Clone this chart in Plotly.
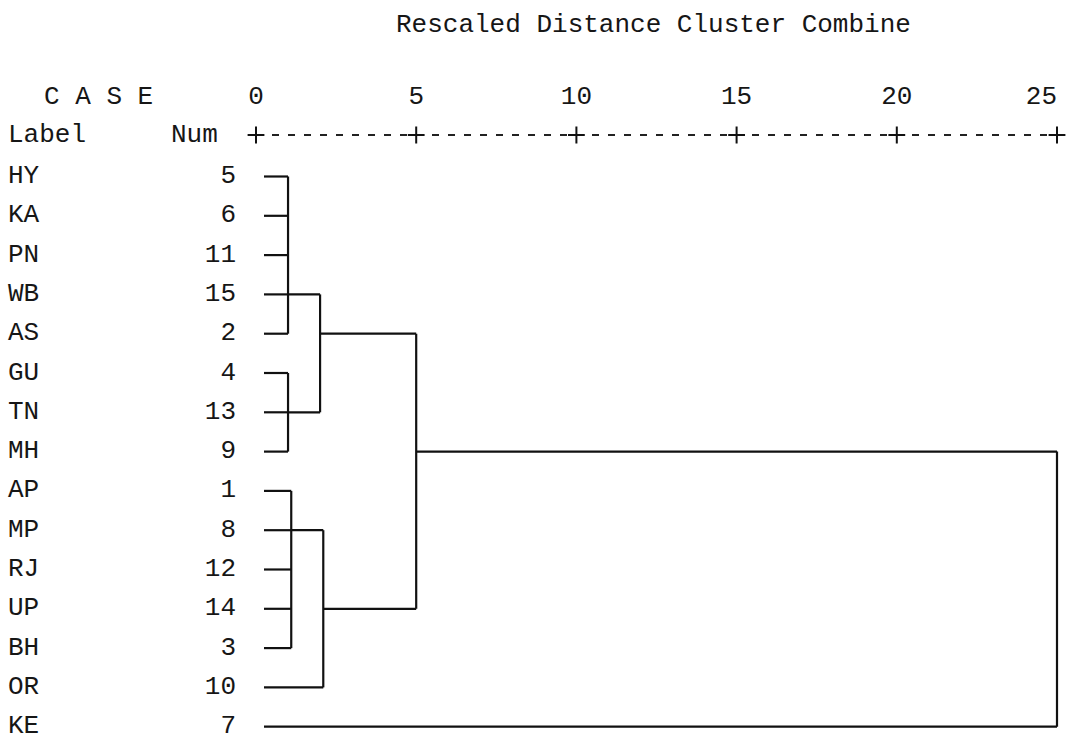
import plotly.graph_objects as go

# ---- data ----
labels = ["HY", "KA", "PN", "WB", "AS", "GU", "TN", "MH", "AP", "MP", "RJ", "UP", "BH", "OR", "KE"]
nums = [5, 6, 11, 15, 2, 4, 13, 9, 1, 8, 12, 14, 3, 10, 7]
scale_ticks = [0, 5, 10, 15, 20, 25]
# merges: ids 0..14 are leaves (row order); merge k gets id 15+k
merge_children = [[0, 1, 2, 3, 4], [5, 6, 7], [15, 16], [8, 9, 10, 11, 12], [18, 13], [17, 19], [20, 14]]
merge_height = [1.0, 1.0, 2.0, 1.1, 2.1, 5.0, 25.0]
merge_row = [3, 6, 4, 9, 11, 7, None]

title_text = "Rescaled Distance Cluster Combine"

# ---- geometry helpers (pixel -> data) ----
W, H = 1072, 746
PX0, PXU = 256.0, 32.04         # pixel of distance 0, pixels per unit
PY0, PYU = 176.5, 39.3          # pixel of row 0, pixels per row
def xd(px):
    return (px - PX0) / PXU
def yd(py):
    return (py - PY0) / PYU

LEAF_START = xd(264)
FONT = "Liberation Mono, Courier New, monospace"
TXT = "#161616"
FS = 26

node_row = {i: i for i in range(len(labels))}
node_h = {i: LEAF_START for i in range(len(labels))}

fig = go.Figure()
lx, ly = [], []
for k, (ch, h) in enumerate(zip(merge_children, merge_height)):
    rows = [node_row[c] for c in ch]
    for c in ch:
        lx += [node_h[c], h, None]
        ly += [node_row[c], node_row[c], None]
    lx += [h, h, None]
    ly += [min(rows), max(rows), None]
    nid = len(labels) + k
    node_h[nid] = h
    node_row[nid] = merge_row[k]

fig.add_trace(go.Scatter(x=lx, y=ly, mode="lines", line=dict(color="#111", width=2.2),
                         hoverinfo="skip", showlegend=False))

# scale line "+----+----+"
ys = yd(135)
fig.add_trace(go.Scatter(x=[scale_ticks[0], scale_ticks[-1]], y=[ys, ys], mode="lines",
                         line=dict(color="#222", width=2, dash="7px,9px"),
                         hoverinfo="skip", showlegend=False))
fig.add_trace(go.Scatter(x=scale_ticks, y=[ys] * len(scale_ticks), mode="markers",
                         marker=dict(symbol="cross-thin", size=12, line=dict(color="#111", width=2)),
                         hoverinfo="skip", showlegend=False))
# tick numbers (last one right-aligned over its "+")
tick_pos = ["middle center"] * (len(scale_ticks) - 1) + ["middle left"]
fig.add_trace(go.Scatter(x=scale_ticks, y=[yd(97)] * len(scale_ticks), mode="text",
                         text=[str(t) for t in scale_ticks], textposition=tick_pos,
                         textfont=dict(family=FONT, size=FS, color=TXT),
                         hoverinfo="skip", showlegend=False))
# case labels
fig.add_trace(go.Scatter(x=[xd(8)] * len(labels), y=list(range(len(labels))), mode="text",
                         text=labels, textposition="middle right",
                         textfont=dict(family=FONT, size=FS, color=TXT),
                         hoverinfo="skip", showlegend=False))
# case numbers
fig.add_trace(go.Scatter(x=[xd(236)] * len(nums), y=list(range(len(nums))), mode="text",
                         text=[str(n) for n in nums], textposition="middle left",
                         textfont=dict(family=FONT, size=FS, color=TXT),
                         hoverinfo="skip", showlegend=False))

ann = dict(showarrow=False, font=dict(family=FONT, size=FS, color=TXT), xref="x", yref="y")
fig.add_annotation(x=xd(653), y=yd(25), text=title_text, xanchor="center", yanchor="middle", **ann)
fig.add_annotation(x=xd(42), y=yd(97), text="C A S E", xanchor="left", yanchor="middle", **ann)
fig.add_annotation(x=xd(6), y=yd(135), text="Label", xanchor="left", yanchor="middle", **ann)
fig.add_annotation(x=xd(220), y=yd(135), text="Num", xanchor="right", yanchor="middle", **ann)

fig.update_layout(
    width=W, height=H, margin=dict(l=0, r=0, t=0, b=0),
    paper_bgcolor="white", plot_bgcolor="white",
    xaxis=dict(range=[xd(0), xd(W)], visible=False, fixedrange=True),
    yaxis=dict(range=[yd(H), yd(0)], visible=False, fixedrange=True),
)
fig.write_html("out.html", config={"displayModeBar": False},
               post_script="document.body.style.margin='0';document.body.style.overflow='hidden';")
